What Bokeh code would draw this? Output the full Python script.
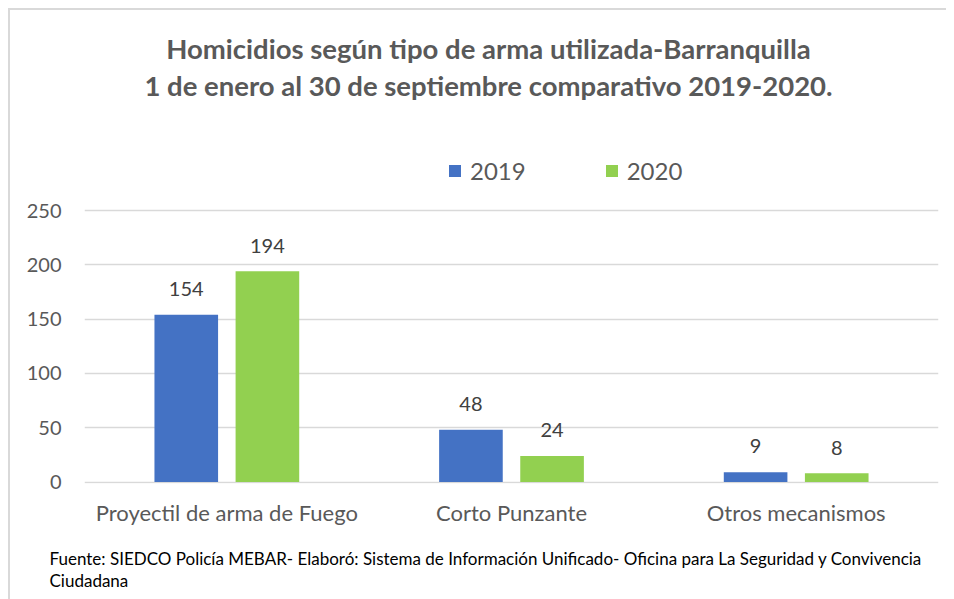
from bokeh.plotting import figure
from bokeh.models import (FactorRange, Range1d, ColumnDataSource, FixedTicker,
                          Label, Legend, LegendItem, Title)
from bokeh.transform import dodge
from bokeh.core.properties import value
from bokeh.embed import file_html
from bokeh.resources import INLINE

# ---------------- data ----------------
categories = ["Proyectil de arma de Fuego", "Corto Punzante", "Otros mecanismos"]
series_names = ["2019", "2020"]
values_2019 = [154, 48, 9]
values_2020 = [194, 24, 8]
y_ticks = [0, 50, 100, 150, 200, 250]
title_lines = ["Homicidios según tipo de arma utilizada-Barranquilla",
               "1 de enero al 30 de septiembre comparativo 2019-2020."]
footnote_lines = ["Fuente:  SIEDCO Policía MEBAR- Elaboró: Sistema de Información Unificado- Oficina para La Seguridad y Convivencia",
                  "Ciudadana"]

# ---------------- style ----------------
FONT = "Lato"
BLUE = "#4472C4"
GREEN = "#92D050"
GREY = "#595959"
DARK = "#404040"
GRID = "#D9D9D9"

FRAME_W, FRAME_H = 854, 473
MB_LEFT, MB_RIGHT, MB_TOP, MB_BOTTOM = 74, 8, 0, 0
PX_PER_UNIT = 1.086
y_start = -1.5 / PX_PER_UNIT
y_end = y_start + FRAME_H / PX_PER_UNIT
ZERO_PX = 481.5   # page y of the value 0

def y_at_page(py):
    return (ZERO_PX - py) / PX_PER_UNIT

def cat_center(i):
    # synthetic coordinate of a factor's centre on the FactorRange
    return i + 0.5

p = figure(frame_width=FRAME_W, frame_height=FRAME_H,
           output_backend="svg", toolbar_location=None,
           x_range=FactorRange(*categories, range_padding=0),
           y_range=Range1d(y_start, y_end),
           min_border_left=MB_LEFT, min_border_right=MB_RIGHT,
           min_border_top=MB_TOP, min_border_bottom=MB_BOTTOM)
p.title = None
p.styles = {"border-left": "2px solid " + GRID, "border-top": "2px solid " + GRID,
            "margin-left": "8px", "margin-top": "8px"}
p.outline_line_color = None
p.background_fill_color = "white"
p.border_fill_color = "white"

LABEL_GAP = 25.8 / PX_PER_UNIT
src = ColumnDataSource(dict(
    cat=categories,
    v19=values_2019,
    v20=values_2020,
    t19=[str(v) for v in values_2019],
    t20=[str(v) for v in values_2020],
    l19=[v + LABEL_GAP for v in values_2019],
    l20=[v + LABEL_GAP for v in values_2020],
))

OFF = 0.1425
BW = 0.2235
r1 = p.vbar(x=dodge("cat", -OFF, range=p.x_range), top="v19", bottom=0, width=BW,
            source=src, fill_color=BLUE, line_color=None)
r2 = p.vbar(x=dodge("cat", OFF, range=p.x_range), top="v20", bottom=0, width=BW,
            source=src, fill_color=GREEN, line_color=None)

for col, tcol, off in (("l19", "t19", -OFF), ("l20", "t20", OFF)):
    p.text(x=dodge("cat", off, range=p.x_range), y=col, text=tcol, source=src,
           text_align="center", text_baseline="middle",
           text_font=value(FONT), text_font_size="20px", text_color=DARK)

# axes
p.yaxis.ticker = FixedTicker(ticks=y_ticks)
p.yaxis.axis_line_color = None
p.yaxis.major_tick_line_color = None
p.yaxis.minor_tick_line_color = None
p.yaxis.major_tick_out = 0
p.yaxis.major_label_standoff = 23
p.yaxis.major_label_text_font = FONT
p.yaxis.major_label_text_font_size = "20px"
p.yaxis.major_label_text_color = GREY

p.xaxis.axis_line_color = None
p.xaxis.major_tick_line_color = None
p.xaxis.major_tick_out = 0
p.xaxis.major_label_standoff = 15
p.xaxis.major_label_text_font = FONT
p.xaxis.major_label_text_font_size = "22px"
p.xaxis.major_label_text_color = GREY

p.xgrid.grid_line_color = None
p.ygrid.grid_line_color = GRID
p.ygrid.grid_line_width = 1.5

# legend
legend = Legend(items=[LegendItem(label=series_names[0], renderers=[r1]),
                       LegendItem(label=series_names[1], renderers=[r2])],
                orientation="horizontal", location=(363, 298))
legend.label_text_font = FONT
legend.label_text_font_size = "24px"
legend.label_text_color = GREY
legend.glyph_width = 15
legend.glyph_height = 15
legend.label_standoff = 8
legend.spacing = 78
legend.padding = 0
legend.margin = 0
legend.border_line_color = None
legend.background_fill_alpha = 0
p.add_layout(legend)

# title
for txt, py in zip(title_lines, (47.5, 85.2)):
    p.add_layout(Label(x=cat_center(1), y=y_at_page(py), x_offset=-23, text=txt,
                       text_align="center", text_baseline="middle",
                       text_font=FONT, text_font_style="bold",
                       text_font_size="27.5px", text_color=GREY))

# footnote (below the category axis)
p.add_layout(Title(text="\n".join(footnote_lines), align="left", offset=49 - 84,
                   standoff=35, text_line_height=1.05,
                   text_font=FONT, text_font_style="normal",
                   text_font_size="17px", text_color="black"), "below")

open("out.html", "w").write(file_html(p, INLINE))
